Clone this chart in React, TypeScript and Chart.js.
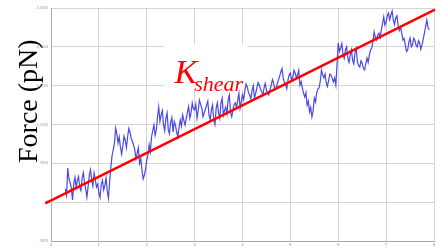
import React, { useEffect, useRef } from "react";
import { Chart, registerables } from "chart.js";

Chart.register(...registerables);

const X_TICKS = [0, 1, 2, 3, 4, 5, 6, 7, 8];
const Y_TICKS = [-500, 0, 500, 1000, 1500, 2000, 2500];

// sampling grid of the force trace (time axis)
const TIME_START = 0.3;
const TIME_STEP = 0.025;

// measured force (pN)
const FORCE = [
  170, 90, 440, 300, 250, 180, 28, 240, 320, 190,
  285, 330, 195, 150, 310, 380, 250, 170, 66, 200,
  350, 420, 285, 210, 375, 290, 195, 230, 118, 60,
  230, 280, 157, 220, 310, 140, 50, 260, 453, 600,
  672, 760, 955, 880, 762, 840, 710, 620, 720, 850,
  800, 700, 839, 950, 903, 820, 780, 740, 672, 560,
  633, 700, 500, 560, 414, 300, 350, 420, 543, 610,
  740, 650, 839, 920, 994, 860, 929, 1100, 1225, 1040,
  1120, 1180, 994, 920, 1080, 1150, 929, 880, 1030, 1090,
  900, 1040, 990, 900, 839, 960, 1058, 980, 1122, 1050,
  994, 1080, 1160, 1230, 1080, 1150, 1277, 1200, 1187, 1260,
  1080, 1180, 1315, 1260, 1210, 1100, 1148, 1200, 1250, 1300,
  1120, 1060, 1187, 1250, 1058, 1000, 1210, 1280, 1148, 1080,
  1277, 1340, 1122, 1180, 1225, 1140, 1315, 1380, 1160, 1100,
  1187, 1260, 1277, 1220, 1315, 1400, 1210, 1290, 1380, 1320,
  1444, 1520, 1483, 1410, 1380, 1330, 1444, 1500, 1340, 1400,
  1470, 1540, 1508, 1460, 1420, 1380, 1470, 1530, 1444, 1400,
  1380, 1450, 1508, 1580, 1534, 1450, 1470, 1520, 1573, 1620,
  1677, 1720, 1600, 1540, 1508, 1460, 1573, 1640, 1663, 1580,
  1600, 1700, 1663, 1600, 1637, 1700, 1508, 1550, 1470, 1400,
  1354, 1410, 1250, 1300, 1161, 1220, 1097, 1180, 1340, 1290,
  1405, 1460, 1470, 1560, 1702, 1640, 1600, 1650, 1534, 1490,
  1573, 1650, 1637, 1590, 1547, 1600, 1508, 1780, 2049, 1940,
  1985, 2040, 1895, 1850, 1959, 2000, 1856, 1800, 1895, 1960,
  1830, 1780, 1921, 1980, 1805, 1760, 1740, 1820, 1790, 1720,
  1702, 1780, 1856, 1800, 1895, 1960, 1985, 2060, 2191, 2120,
  2088, 2150, 2178, 2120, 2217, 2300, 2384, 2280, 2320, 2400,
  2436, 2350, 2410, 2460, 2345, 2290, 2371, 2400, 2280, 2210,
  2255, 2180, 2088, 2110, 2024, 1940, 1959, 2060, 2114, 2000,
  2024, 2110, 2088, 2020, 1998, 2080, 2049, 1970, 2024, 2100,
  2178, 2260, 2345, 2250, 2217,
];

// fitted K_shear line endpoints
const FIT_X = [-0.12, 8.02];
const FIT_Y = [-15, 2480];

const annotPlugin = {
  id: "annot",
  beforeDatasetsDraw(chart: any) {
    const { ctx, scales } = chart;
    const x0 = scales.x.getPixelForValue(2.35);
    const x1 = scales.x.getPixelForValue(4.1);
    const y0 = scales.y.getPixelForValue(2030);
    const y1 = scales.y.getPixelForValue(1450);
    ctx.save();
    ctx.fillStyle = "#ffffff";
    ctx.fillRect(x0, y0, x1 - x0, y1 - y0);
    ctx.restore();
  },
  afterDatasetsDraw(chart: any) {
    const { ctx, scales } = chart;
    ctx.save();
    ctx.fillStyle = "#ff0000";
    ctx.textBaseline = "alphabetic";
    ctx.textAlign = "left";
    const kx = scales.x.getPixelForValue(2.58);
    const ky = scales.y.getPixelForValue(1540);
    ctx.font = "italic 34px 'Liberation Serif', serif";
    ctx.fillText("K", kx, ky);
    const kw = ctx.measureText("K").width;
    ctx.font = "italic 22px 'Liberation Serif', serif";
    ctx.fillText("shear", kx + kw - 3, ky + 8);
    ctx.restore();

    ctx.save();
    ctx.fillStyle = "#000000";
    ctx.font = "28px 'Liberation Serif', serif";
    ctx.textAlign = "center";
    ctx.textBaseline = "alphabetic";
    ctx.translate(37, scales.y.getPixelForValue(1300));
    ctx.rotate(-Math.PI / 2);
    ctx.fillText("Force (pN)", 0, 0);
    ctx.restore();
  },
};

export default function App() {
  const ref = useRef<HTMLCanvasElement>(null);
  useEffect(() => {
    document.body.style.margin = "0";
    const pts = FORCE.map((v, i) => ({ x: TIME_START + i * TIME_STEP, y: v }));
    const fit = FIT_X.map((x, i) => ({ x, y: FIT_Y[i] }));
    const tickFont = { size: 4, family: "'DejaVu Sans', sans-serif" };
    const chart = new Chart(ref.current!, {
      type: "line",
      data: {
        datasets: [
          {
            data: fit,
            borderColor: "#ff0000",
            borderWidth: 2.5,
            pointRadius: 0,
            clip: false as any,
          },
          {
            data: pts,
            borderColor: "rgba(40,40,225,0.85)",
            borderWidth: 1.2,
            pointRadius: 0,
            tension: 0,
          },
        ],
      },
      options: {
        animation: false,
        responsive: false,
        maintainAspectRatio: false,
        layout: { padding: { top: 8, right: 8, left: 0, bottom: 0 } },
        plugins: { legend: { display: false }, tooltip: { enabled: false } },
        scales: {
          x: {
            type: "linear",
            min: 0,
            max: 8,
            afterBuildTicks: (s: any) => {
              s.ticks = X_TICKS.map((v) => ({ value: v }));
            },
            afterFit: (s: any) => {
              s.height = 9;
            },
            grid: { color: "#d4d4d4", lineWidth: 1, drawTicks: false },
            border: { color: "#aaaaaa" },
            ticks: { font: tickFont, color: "#999999", padding: 2, maxRotation: 0 },
          },
          y: {
            type: "linear",
            min: -500,
            max: 2500,
            afterBuildTicks: (s: any) => {
              s.ticks = Y_TICKS.map((v) => ({ value: v }));
            },
            afterFit: (s: any) => {
              s.width = 51;
            },
            grid: { color: "#d4d4d4", lineWidth: 1, drawTicks: false },
            border: { color: "#aaaaaa" },
            ticks: { font: tickFont, color: "#999999", padding: 3 },
          },
        },
      },
      plugins: [annotPlugin],
    });
    return () => chart.destroy();
  }, []);
  return (
    <div style={{ position: "absolute", left: 0, top: 0, width: 442, height: 250, background: "#fff" }}>
      <canvas ref={ref} width={442} height={250} style={{ width: 442, height: 250 }} />
    </div>
  );
}
